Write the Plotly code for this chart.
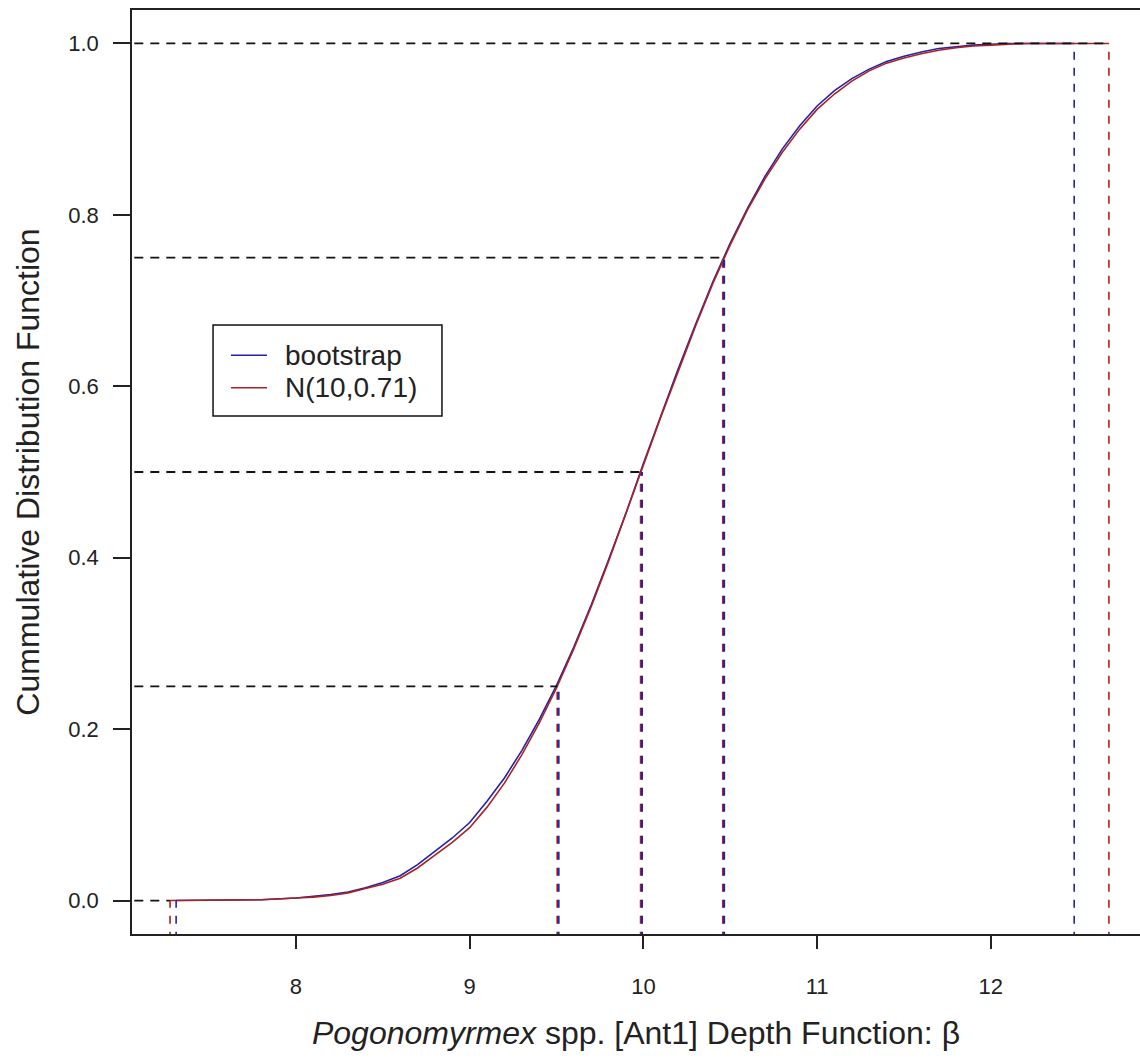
import plotly.graph_objects as go

# ---- data ----
grid_x = [7.8, 8.0, 8.1, 8.2, 8.3, 8.4, 8.5, 8.6, 8.7, 8.8, 8.9, 9.0, 9.1, 9.2, 9.3, 9.4,
          9.5, 9.6, 9.7, 9.8, 9.9, 10.0, 10.1, 10.2, 10.3, 10.4, 10.5, 10.6, 10.7, 10.8,
          10.9, 11.0, 11.1, 11.2, 11.3, 11.4, 11.5, 11.6, 11.7, 11.8, 11.9, 12.0, 12.1, 12.2]
boot_cdf = [0.001, 0.003, 0.005, 0.007, 0.010, 0.015, 0.021, 0.029, 0.042, 0.058, 0.073, 0.091,
            0.116, 0.143, 0.175, 0.211, 0.251, 0.296, 0.345, 0.398, 0.452, 0.510, 0.566, 0.620,
            0.672, 0.722, 0.767, 0.808, 0.845, 0.877, 0.904, 0.927, 0.945, 0.959, 0.970, 0.979,
            0.985, 0.990, 0.994, 0.996, 0.998, 0.999, 1.000, 1.000]
norm_cdf = [0.001, 0.003, 0.004, 0.006, 0.009, 0.014, 0.019, 0.026, 0.038, 0.053, 0.068, 0.085,
            0.109, 0.137, 0.170, 0.207, 0.248, 0.294, 0.343, 0.396, 0.451, 0.508, 0.564, 0.618,
            0.670, 0.720, 0.765, 0.806, 0.842, 0.873, 0.900, 0.923, 0.941, 0.956, 0.968, 0.977,
            0.983, 0.988, 0.992, 0.995, 0.997, 0.998, 0.999, 1.000]
probs = [0.0, 0.25, 0.5, 0.75, 1.0]
boot_q = [7.31, 9.512, 9.992, 10.465, 12.48]
norm_q = [7.275, 9.505, 9.985, 10.458, 12.68]

series_names = ["bootstrap", "N(10,0.71)"]
x_ticks = [8, 9, 10, 11, 12]
y_ticks = [0.0, 0.2, 0.4, 0.6, 0.8, 1.0]
x_title = "<i>Pogonomyrmex</i> spp. [Ant1] Depth Function: β"
y_title = "Cummulative Distribution Function"

BLUE = "#2222aa"
RED = "#aa2222"
TXT = "#222222"
FONT = "Liberation Sans, Arial, sans-serif"
X_RANGE = [7.056, 12.859]
Y_RANGE = [-0.039, 1.039]

fig = go.Figure()

# CDF curves
fig.add_trace(go.Scatter(x=[boot_q[0]] + grid_x + [boot_q[-1]], y=[0.0] + boot_cdf + [1.0],
                         mode="lines", line=dict(color=BLUE, width=1.6), name=series_names[0],
                         showlegend=False))
fig.add_trace(go.Scatter(x=[norm_q[0]] + grid_x + [norm_q[-1]], y=[0.0] + norm_cdf + [1.0],
                         mode="lines", line=dict(color=RED, width=1.6), name=series_names[1],
                         showlegend=False))

# horizontal dashed reference lines
for p, q in zip(probs, norm_q):
    fig.add_trace(go.Scatter(x=[X_RANGE[0] - 1, q], y=[p, p], mode="lines", showlegend=False,
                             hoverinfo="skip",
                             line=dict(color="#111111", width=1.8, dash="9px,7px")))

# vertical dashed quantile lines
for i, p in enumerate(probs):
    w = 1.6 if p in (0.0, 1.0) else 2.0
    fig.add_trace(go.Scatter(x=[norm_q[i], norm_q[i]], y=[Y_RANGE[0] - 0.1, p], mode="lines",
                             showlegend=False, hoverinfo="skip",
                             line=dict(color=RED, width=w, dash="8px,8px")))
    fig.add_trace(go.Scatter(x=[boot_q[i], boot_q[i]], y=[Y_RANGE[0] - 0.1, p], mode="lines",
                             showlegend=False, hoverinfo="skip",
                             line=dict(color=BLUE, width=w, dash="8px,8px")))

# legend box (drawn in paper coordinates)
ROW1, ROW2 = 0.6264, 0.5911
shapes = [
    dict(type="rect", xref="paper", yref="paper", x0=0.0804, x1=0.3075, y0=0.5606, y1=0.6591,
         line=dict(color="#111111", width=1.5), fillcolor="white", layer="above"),
    dict(type="line", xref="paper", yref="paper", x0=0.0982, x1=0.1339, y0=ROW1, y1=ROW1,
         line=dict(color=BLUE, width=1.6), layer="above"),
    dict(type="line", xref="paper", yref="paper", x0=0.0982, x1=0.1339, y0=ROW2, y1=ROW2,
         line=dict(color=RED, width=1.6), layer="above"),
]
annotations = [
    dict(xref="paper", yref="paper", x=0.1512, y=ROW1, text=series_names[0], showarrow=False,
         xanchor="left", yanchor="middle", borderpad=0,
         font=dict(size=28, family=FONT, color=TXT)),
    dict(xref="paper", yref="paper", x=0.1512, y=ROW2, text=series_names[1], showarrow=False,
         xanchor="left", yanchor="middle", borderpad=0,
         font=dict(size=28, family=FONT, color=TXT)),
]

fig.update_layout(
    width=1140, height=1059,
    margin=dict(l=132, r=0, t=10, b=125),
    paper_bgcolor="white", plot_bgcolor="white",
    font=dict(family=FONT, color=TXT),
    showlegend=False,
    shapes=shapes, annotations=annotations,
)
fig.update_xaxes(range=X_RANGE, tickvals=x_ticks, ticktext=[str(v) for v in x_ticks],
                 showgrid=False, zeroline=False, showline=True, mirror=True,
                 linecolor=TXT, linewidth=1.5, ticks="outside", ticklen=13,
                 tickwidth=1.5, tickcolor=TXT, tickfont=dict(size=22, family=FONT),
                 ticklabelstandoff=19,
                 title=dict(text=x_title, font=dict(size=32, family=FONT), standoff=23))
fig.update_yaxes(range=Y_RANGE, tickvals=y_ticks, ticktext=[f"{v:.1f}" for v in y_ticks],
                 showgrid=False, zeroline=False, showline=True, mirror=False,
                 linecolor=TXT, linewidth=1.5, ticks="outside", ticklen=17,
                 tickwidth=1.5, tickcolor=TXT, tickfont=dict(size=22, family=FONT),
                 ticklabelstandoff=10,
                 title=dict(text=y_title, font=dict(size=32, family=FONT), standoff=19))

fig.write_html("out.html", config={"displayModeBar": False},
               post_script="document.body.style.margin='0';document.body.style.overflow='hidden';")
